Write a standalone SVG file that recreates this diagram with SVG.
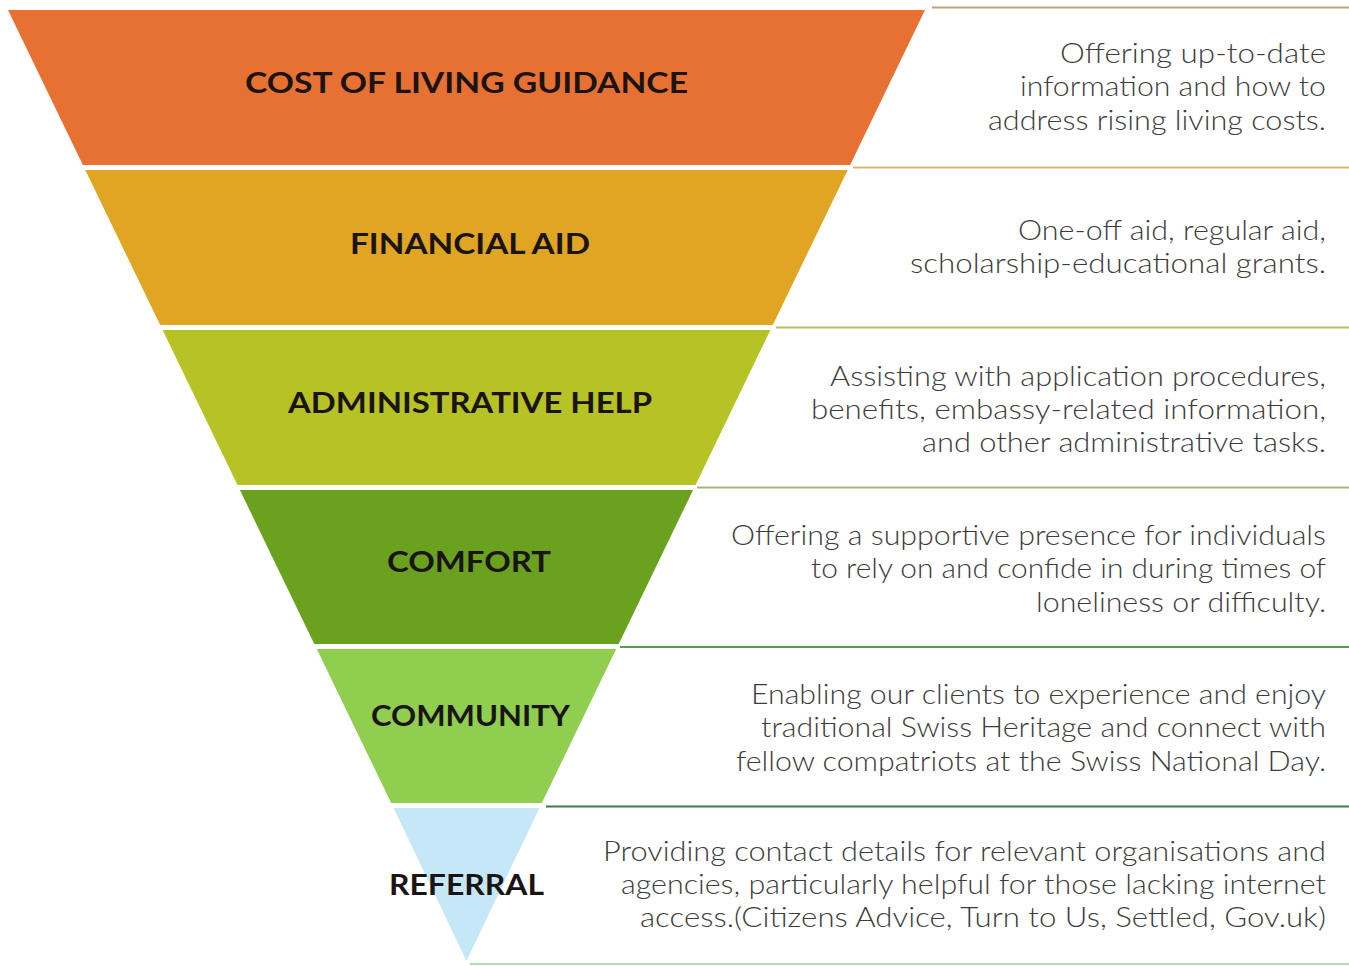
<svg xmlns="http://www.w3.org/2000/svg" width="1349" height="966" viewBox="0 0 1349 966">
<style>
.lbl{font-family:Lato,"Liberation Sans",sans-serif;font-weight:bold;font-size:28px;fill:#1a1414}
.desc{font-family:Lato,"Liberation Sans",sans-serif;font-weight:300;font-size:27px;fill:#3c3c3c}
.sep{stroke-width:2;fill:none}
</style>
<rect width="1349" height="966" fill="#ffffff"/>
<g id="connectors">
<line class="sep" x1="932" y1="7.5" x2="1349" y2="7.5" stroke="#c4a07e"/>
<line class="sep" x1="853" y1="167.5" x2="1349" y2="167.5" stroke="#d9b86e"/>
<line class="sep" x1="776" y1="327.5" x2="1349" y2="327.5" stroke="#b8c26a"/>
<line class="sep" x1="697" y1="487.5" x2="1349" y2="487.5" stroke="#9fb682"/>
<line class="sep" x1="620" y1="647" x2="1349" y2="647" stroke="#5a9a4e"/>
<line class="sep" x1="546" y1="806.5" x2="1349" y2="806.5" stroke="#3f7a40"/>
<line class="sep" x1="470" y1="964" x2="1349" y2="964" stroke="#b4dcb4"/>
</g>
<g id="cost-of-living">
<polygon points="8,10 925,10 850.1,165 82.9,165" fill="#e77133"/>
<text class="lbl" x="245" y="93" textLength="443" lengthAdjust="spacingAndGlyphs">COST OF LIVING GUIDANCE</text>
<text class="desc" x="1060" y="63" textLength="266" lengthAdjust="spacingAndGlyphs">Offering up-to-date</text>
<text class="desc" x="1020" y="96" textLength="306" lengthAdjust="spacingAndGlyphs">information and how to</text>
<text class="desc" x="988" y="130" textLength="338" lengthAdjust="spacingAndGlyphs">address rising living costs.</text>
</g>
<g id="financial-aid">
<polygon points="85.3,170 847.7,170 772.8,325 160.2,325" fill="#e0a523"/>
<text class="lbl" x="350" y="254" textLength="240" lengthAdjust="spacingAndGlyphs">FINANCIAL AID</text>
<text class="desc" x="1018" y="240" textLength="308" lengthAdjust="spacingAndGlyphs">One-off aid, regular aid,</text>
<text class="desc" x="910" y="273" textLength="416" lengthAdjust="spacingAndGlyphs">scholarship-educational grants.</text>
</g>
<g id="administrative-help">
<polygon points="162.6,330 770.4,330 695.5,485 237.5,485" fill="#b7c224"/>
<text class="lbl" x="288" y="413" textLength="364" lengthAdjust="spacingAndGlyphs">ADMINISTRATIVE HELP</text>
<text class="desc" x="830" y="386" textLength="496" lengthAdjust="spacingAndGlyphs">Assisting with application procedures,</text>
<text class="desc" x="811" y="419" textLength="515" lengthAdjust="spacingAndGlyphs">benefits, embassy-related information,</text>
<text class="desc" x="922" y="452" textLength="404" lengthAdjust="spacingAndGlyphs">and other administrative tasks.</text>
</g>
<g id="comfort">
<polygon points="239.9,490 693.1,490 618.7,644 314.3,644" fill="#6aa220"/>
<text class="lbl" x="387" y="572" textLength="164" lengthAdjust="spacingAndGlyphs">COMFORT</text>
<text class="desc" x="731" y="545" textLength="595" lengthAdjust="spacingAndGlyphs">Offering a supportive presence for individuals</text>
<text class="desc" x="811" y="578" textLength="515" lengthAdjust="spacingAndGlyphs">to rely on and confide in during times of</text>
<text class="desc" x="1036" y="612" textLength="290" lengthAdjust="spacingAndGlyphs">loneliness or difficulty.</text>
</g>
<g id="community">
<polygon points="316.8,649 616.2,649 541.8,803 391.2,803" fill="#8fce4f"/>
<text class="lbl" x="371" y="726" textLength="199" lengthAdjust="spacingAndGlyphs">COMMUNITY</text>
<text class="desc" x="751" y="704" textLength="575" lengthAdjust="spacingAndGlyphs">Enabling our clients to experience and enjoy</text>
<text class="desc" x="761" y="737" textLength="565" lengthAdjust="spacingAndGlyphs">traditional Swiss Heritage and connect with</text>
<text class="desc" x="736" y="771" textLength="590" lengthAdjust="spacingAndGlyphs">fellow compatriots at the Swiss National Day.</text>
</g>
<g id="referral">
<polygon points="393.6,808 539.4,808 466.5,961" fill="#c6e7f6"/>
<text class="lbl" x="389" y="895" textLength="155" lengthAdjust="spacingAndGlyphs">REFERRAL</text>
<text class="desc" x="603" y="861" textLength="723" lengthAdjust="spacingAndGlyphs">Providing contact details for relevant organisations and</text>
<text class="desc" x="621" y="894" textLength="705" lengthAdjust="spacingAndGlyphs">agencies, particularly helpful for those lacking internet</text>
<text class="desc" x="640" y="927" textLength="686" lengthAdjust="spacingAndGlyphs">access.(Citizens Advice, Turn to Us, Settled, Gov.uk)</text>
</g>
</svg>
